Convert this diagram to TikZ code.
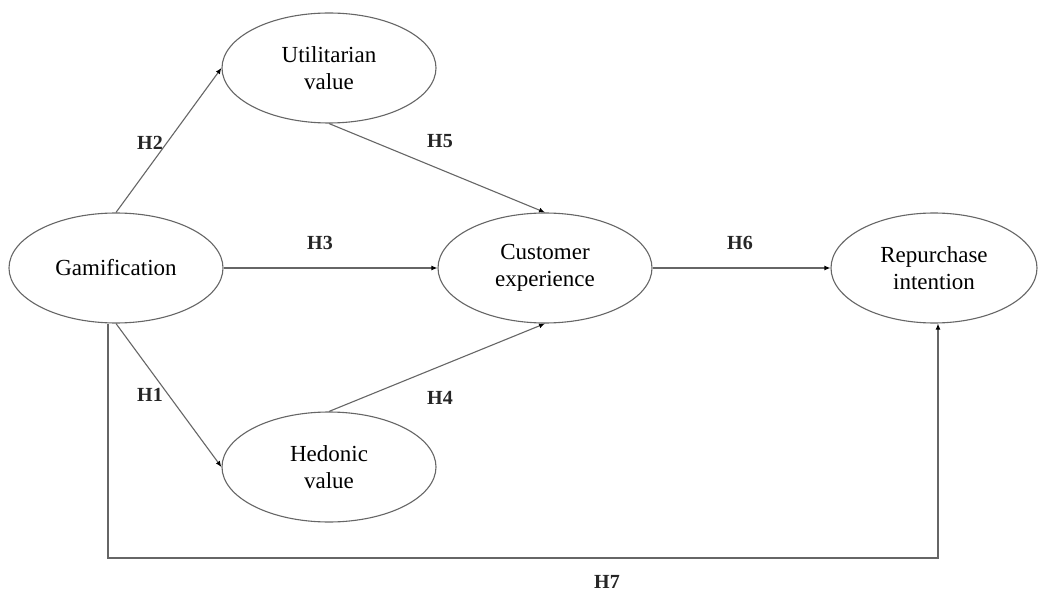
\documentclass[tikz,border=0pt]{standalone}
\usepackage{fontspec}
\setmainfont{Liberation Serif}
\usetikzlibrary{shapes.geometric,arrows.meta}
\begin{document}
\begin{tikzpicture}[x=1pt,y=-1pt,
  construct/.style={ellipse,draw=black!60,line width=1.1pt,minimum width=214pt,minimum height=110pt,inner sep=0pt,
    align=center,font=\fontsize{23}{27}\selectfont},
  path/.style={draw=black!60,line width=1.1pt,-{Latex[length=6pt,width=5pt,fill=black,color=black]}},
  hyp/.style={font=\fontsize{20}{24}\selectfont\bfseries,text=black!85}]
\useasboundingbox[fill=white] (0,0) rectangle (1039,596);
\node[construct] (G) at (116,268) {Gamification};
\node[construct] (U) at (329,68) {Utilitarian\\value};
\node[construct] (C) at (545,268) {Customer\\experience};
\node[construct,minimum width=206pt] (R) at (934,268) {Repurchase\\intention};
\node[construct] (Hd) at (329,467) {Hedonic\\value};
\draw[path] (G.north) -- (U.west);
\draw[path] (G.south) -- (Hd.west);
\draw[path] (G.east) -- (C.west);
\draw[path] (U.south) -- (C.north);
\draw[path] (Hd.north) -- (C.south);
\draw[path] (C.east) -- (R.west);
\coordinate (h7a) at ([xshift=-8pt]G.south);
\coordinate (h7b) at (108,558);
\coordinate (h7c) at ([xshift=4pt]R.south);
\draw[path] (h7a) -- (h7b) -| (h7c);
\node[hyp] (l2) at (150,143) {H2};
\node[hyp] (l1) at (150,395) {H1};
\node[hyp] (l3) at (320,243) {H3};
\node[hyp] (l5) at (440,141) {H5};
\node[hyp] (l4) at (440,398) {H4};
\node[hyp] (l6) at (740,243) {H6};
\node[hyp] (l7) at (607,582) {H7};
\end{tikzpicture}
\end{document}
